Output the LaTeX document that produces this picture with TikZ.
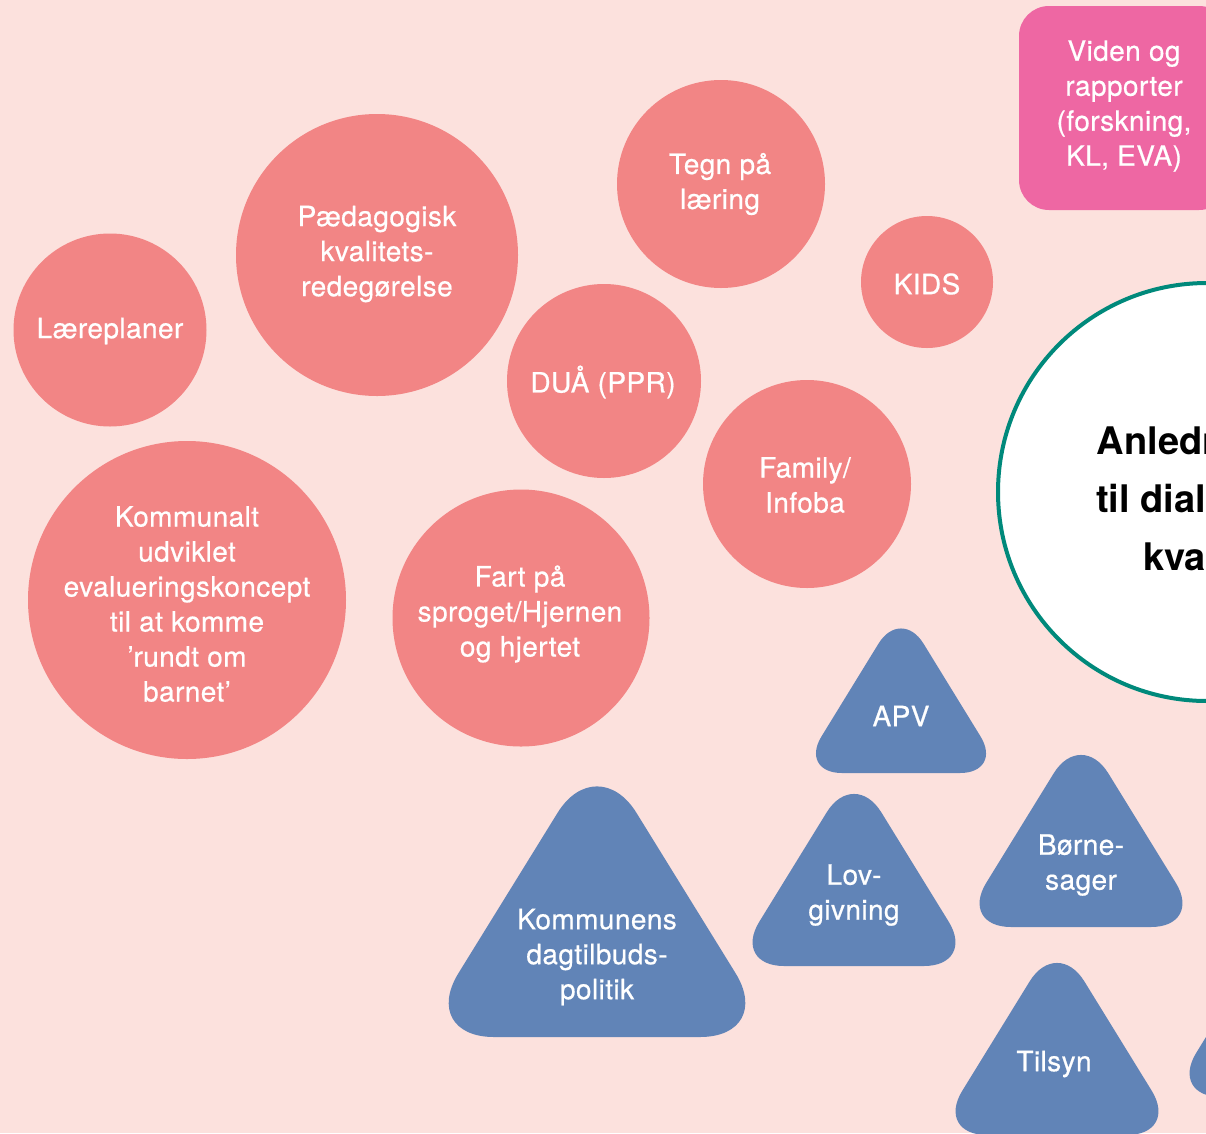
\documentclass[tikz,border=0pt]{standalone}
\usepackage{fontspec}
\setmainfont{TeX Gyre Heros}
\newfontfamily\lblfont{TeX Gyre Heros}[FakeBold=0.6, LetterSpace=1.5]
\definecolor{bg}{RGB}{252,225,221}
\definecolor{salmon}{RGB}{242,133,133}
\definecolor{tblue}{RGB}{97,132,183}
\definecolor{hotpink}{RGB}{238,103,163}
\definecolor{tealc}{RGB}{0,137,123}
\tikzset{
  bubble/.style={fill=salmon},
  lbl/.style={text=white, align=center, inner sep=0pt, font=\lblfont\fontsize{28}{35}\selectfont},
  trishape/.style={fill=tblue},
  bigtext/.style={text=black, align=center, inner sep=0pt, font=\bfseries\fontsize{38}{58}\selectfont},
}
% cx, base y, height, half width, corner radius
\newcommand\rtri[5]{%
  \fill[trishape, rounded corners=#5pt] ({#1-#4},#2) -- (#1,{#2-#3}) -- ({#1+#4},#2) -- cycle;
}
\begin{document}
\begin{tikzpicture}[x=1pt,y=-1pt]
\useasboundingbox (0,0) rectangle (1206,1133);
\begin{scope}
\clip (0,0) rectangle (1206,1133);
\fill[bg] (0,0) rectangle (1206,1133);

% pink rounded rectangle
\fill[hotpink, rounded corners=30pt] (1019,6) rectangle (1229,210);
\node[lbl] (viden) at (1124,106) {Viden og\\rapporter\\(forskning,\\KL, EVA)};

% bubbles
\fill[bubble] (110,330) circle (96.5);
\node[lbl] (laere) at (110,331) {Læreplaner};
\fill[bubble] (377,255) circle (141);
\node[lbl] (paed) at (377,254) {Pædagogisk\\kvalitets-\\redegørelse};
\fill[bubble] (721,184) circle (104);
\node[lbl] (tegn) at (720,184) {Tegn på\\læring};
\fill[bubble] (927,282) circle (66);
\node[lbl] (kids) at (927,284) {KIDS};
\fill[bubble] (604,381) circle (97);
\node[lbl] (dua) at (603,382) {DUÅ (PPR)};
\fill[bubble] (807,484) circle (104);
\node[lbl] (family) at (805,485) {Family/\\Infoba};
\fill[bubble] (187,600) circle (159);
\node[lbl] (komm) at (187,604) {Kommunalt\\udviklet\\evalueringskoncept\\til at komme\\’rundt om\\barnet’};
\fill[bubble] (521,618) circle (128.5);
\node[lbl] (fart) at (520,614) {Fart på\\sproget/Hjernen\\og hjertet};

% big white circle
\draw[tealc, line width=4pt, fill=white] (1207,492) circle (209);
\node[bigtext] (anl) at (1208,499) {Anledninger\\til dialog om\\kvalitet};

% triangles
\rtri{901}{773}{166}{102}{43}
\node[lbl] (apv) at (901,716) {APV};
\rtri{597}{1037}{288}{178}{75}
\node[lbl] (kd) at (597,957) {Kommunens\\dagtilbuds-\\politik};
\rtri{854}{966}{198}{122}{52}
\node[lbl] (lov) at (854,895) {Lov-\\givning};
\rtri{1081}{927}{198}{122}{52}
\node[lbl] (bs) at (1081,865) {Børne-\\sager};
\rtri{1057}{1135}{198}{122}{52}
\node[lbl] (tilsyn) at (1054,1064) {Tilsyn};
\rtri{1291}{1097}{198}{122}{52}
\end{scope}
\end{tikzpicture}
\end{document}
